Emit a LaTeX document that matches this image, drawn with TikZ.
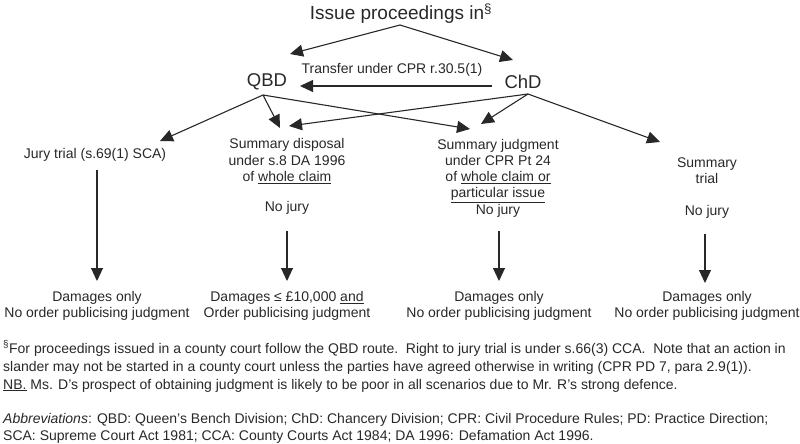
\documentclass[tikz,border=0pt]{standalone}
\usepackage{fontspec}
\setmainfont{Liberation Sans}
\usetikzlibrary{arrows.meta}
\definecolor{ink}{RGB}{40,40,40}
\begin{document}
\begin{tikzpicture}[x=1pt,y=-1pt,
  txt/.style={font=\fontsize{14}{16.3}\selectfont, text=ink, inner sep=0pt, align=center},
  big/.style={font=\fontsize{18.5}{20}\selectfont, text=ink, inner sep=0pt},
  arr/.style={draw=ink, line width=1.1pt, -{Triangle[length=13pt,width=12pt]}},
  note/.style={font=\fontsize{14}{17}\selectfont, text=ink, inner sep=0pt, anchor=base west}]
\useasboundingbox (0,0) rectangle (800,444);
% top
\node[big, font=\fontsize{19}{21}\selectfont] (title) at (401,14) {Issue proceedings in\textsuperscript{\S}};
\node[big] (qbd) at (267,82) {QBD};
\node[big] (chd) at (523,82) {ChD};
\node[txt] (transfer) at (392,70) {Transfer under CPR r.30.5(1)};
\coordinate (top) at (400,25);
\coordinate (qin) at (290,54);
\coordinate (cin) at (513,60);
\draw[arr] (top) -- (qin);
\draw[arr] (top) -- (cin);
\coordinate (trs) at (492,86);
\coordinate (tre) at (300,86);
\draw[arr] (trs) -- (tre);
% level 2 text
\node[txt] (jury) at (95,155) {Jury trial (s.69(1) SCA)};
\node[txt] (disp) at (287,161) {Summary disposal\\under s.8 DA 1996\\of \underline{whole claim}};
\node[txt] (dispnj) at (287,208) {No jury};
\node[txt] (judg) at (498,178) {Summary judgment\\under CPR Pt 24\\of \underline{whole claim or}\\\underline{particular issue}\\No jury};
\node[txt] (trial) at (707,171) {Summary\\trial};
\node[txt] (trialnj) at (707,212) {No jury};
% branch arrows
\coordinate (qs) at (263,95);
\coordinate (cs) at (528,94);
\coordinate (tjury) at (160,141);
\coordinate (tdq) at (280,128);
\coordinate (tjq) at (470,129);
\coordinate (tdc) at (289,126);
\coordinate (tjc) at (481,124);
\coordinate (ttrial) at (660,142);
\draw[arr] (qs) -- (tjury);
\draw[arr] (qs) -- (tdq);
\draw[arr] (qs) -- (tjq);
\draw[arr] (cs) -- (tdc);
\draw[arr] (cs) -- (tjc);
\draw[arr] (cs) -- (ttrial);
% results
\node[txt] (r1) at (97,306) {Damages only\\No order publicising judgment};
\node[txt] (r2) at (287,306) {Damages ≤ £10,000 \underline{and}\\Order publicising judgment};
\node[txt] (r3) at (499,306) {Damages only\\No order publicising judgment};
\node[txt] (r4) at (707,306) {Damages only\\No order publicising judgment};
\coordinate (v1s) at (97,170);  \coordinate (v1e) at (97,281);
\coordinate (v2s) at (287,231); \coordinate (v2e) at (287,281);
\coordinate (v3s) at (499,231); \coordinate (v3e) at (499,281);
\coordinate (v4s) at (705,234); \coordinate (v4e) at (705,283);
\draw[arr] (v1s) -- (v1e);
\draw[arr] (v2s) -- (v2e);
\draw[arr] (v3s) -- (v3e);
\draw[arr] (v4s) -- (v4e);
% footnotes
\node[note] (f1) at (3,353) {\textsuperscript{\S}For proceedings issued in a county court follow the QBD route.\ \ Right to jury trial is under s.66(3) CCA.\ \ Note that an action in};
\node[note] (f2) at (3,371) {slander may not be started in a county court unless the parties have agreed otherwise in writing (CPR PD 7, para 2.9(1)).};
\node[note] (f3) at (3,389) {\underline{NB.} Ms. D’s prospect of obtaining judgment is likely to be poor in all scenarios due to Mr. R’s strong defence.};
\node[note] (f4) at (3,423) {\textit{Abbreviations}: QBD: Queen’s Bench Division; ChD: Chancery Division; CPR: Civil Procedure Rules; PD: Practice Direction;};
\node[note] (f5) at (3,440) {SCA: Supreme Court Act 1981; CCA: County Courts Act 1984; DA 1996: Defamation Act 1996.};
\end{tikzpicture}
\end{document}
